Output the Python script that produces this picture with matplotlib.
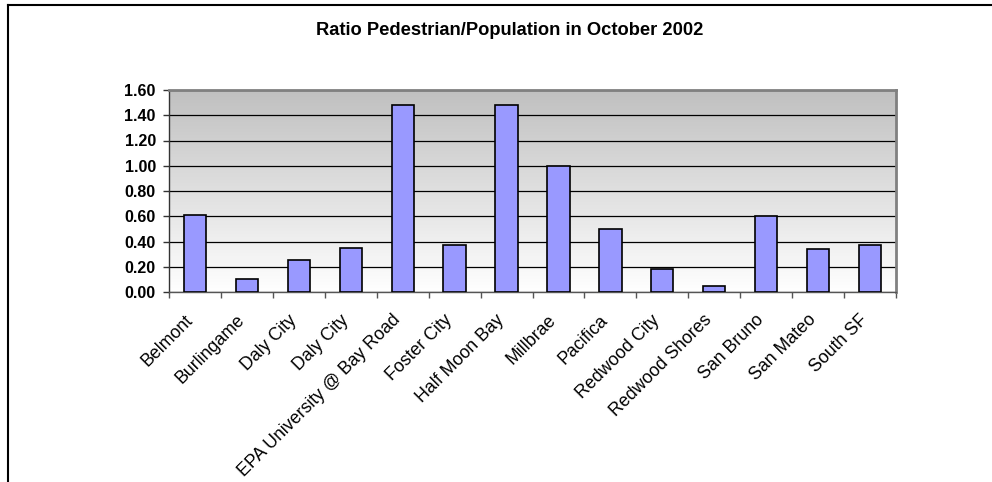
import numpy as np
import matplotlib
matplotlib.use("Agg")
import matplotlib.pyplot as plt
import matplotlib.transforms as mtransforms
from matplotlib.colors import LinearSegmentedColormap
from matplotlib.lines import Line2D

# ---------------------------------------------------------------------------
#  Data
# ---------------------------------------------------------------------------
cities = ["Belmont", "Burlingame", "Daly City", "Daly City",
          "EPA University @ Bay Road", "Foster City", "Half Moon Bay",
          "Millbrae", "Pacifica", "Redwood City", "Redwood Shores",
          "San Bruno", "San Mateo", "South SF"]
ratio = [0.61, 0.10, 0.25, 0.35, 1.48, 0.37, 1.48,
         1.00, 0.50, 0.18, 0.05, 0.60, 0.34, 0.37]
yticks = [0.0, 0.2, 0.4, 0.6, 0.8, 1.0, 1.2, 1.4, 1.6]
title = "Ratio Pedestrian/Population in October 2002"

plt.rcParams["font.family"] = ["Liberation Sans", "DejaVu Sans"]

W, H = 992, 482
fig = plt.figure(figsize=(W / 100, H / 100), dpi=100)
ax = fig.add_axes([169 / W, 190 / H, 727 / W, 202 / H])

# gradient plot area (grey at top -> white at bottom)
grad = np.linspace(0, 1, 256).reshape(-1, 1)
cmap = LinearSegmentedColormap.from_list("bg", ["#ffffff", "#c0c0c0"])
ax.imshow(grad, cmap=cmap, aspect="auto", extent=[0, 1, 0, 1],
          transform=ax.transAxes, origin="lower", zorder=0)

x = np.arange(len(cities))
ax.bar(x, ratio, width=0.43, color="#9999ff", edgecolor="black", lw=1.2, zorder=3)

ax.set_xlim(-0.5, len(cities) - 0.5)
ax.set_ylim(0, 1.6)

# grid + spines
ax.set_yticks(yticks)
ax.set_yticklabels([f"{v:.2f}" for v in yticks])
ax.yaxis.grid(True, color="black", lw=0.9)
ax.set_axisbelow(True)
for side in ("top", "right"):
    ax.spines[side].set_color("#808080")
    ax.spines[side].set_linewidth(2.0)
ax.spines["left"].set_color("#333333")
ax.spines["left"].set_linewidth(1.0)
ax.spines["bottom"].set_color("#555555")
ax.spines["bottom"].set_linewidth(1.0)

ax.tick_params(axis="y", direction="out", length=4.5, width=1, color="#333333",
               pad=5, labelsize=11.5)
for lab in ax.get_yticklabels():
    lab.set_fontweight("bold")

# x: labels at category centres, tick marks at boundaries
ax.set_xticks(x)
ax.set_xticklabels(cities, rotation=45, ha="right", va="top",
                   rotation_mode="anchor", fontsize=12.8)
ax.set_xticks(np.arange(len(cities) + 1) - 0.5, minor=True)
ax.tick_params(axis="x", which="major", length=0, pad=14)
ax.tick_params(axis="x", which="minor", direction="out", length=4, width=1,
               color="#555555")
shift = mtransforms.ScaledTranslation(-11 / 100, 0, fig.dpi_scale_trans)
for lab in ax.get_xticklabels():
    lab.set_transform(lab.get_transform() + shift)

fig.text(510 / W, 1 - 30.7 / H, title, ha="center", va="center",
         fontsize=13.2, fontweight="bold")

# outer chart frame (top and left edge only visible)
fig.add_artist(Line2D([8 / W, 8 / W], [0, 1 - 4.5 / H], color="black", lw=1.5,
                      transform=fig.transFigure))
fig.add_artist(Line2D([8 / W, 1], [1 - 4.5 / H, 1 - 4.5 / H], color="black", lw=1.5,
                      transform=fig.transFigure))

fig.savefig("out.png", dpi=100)
